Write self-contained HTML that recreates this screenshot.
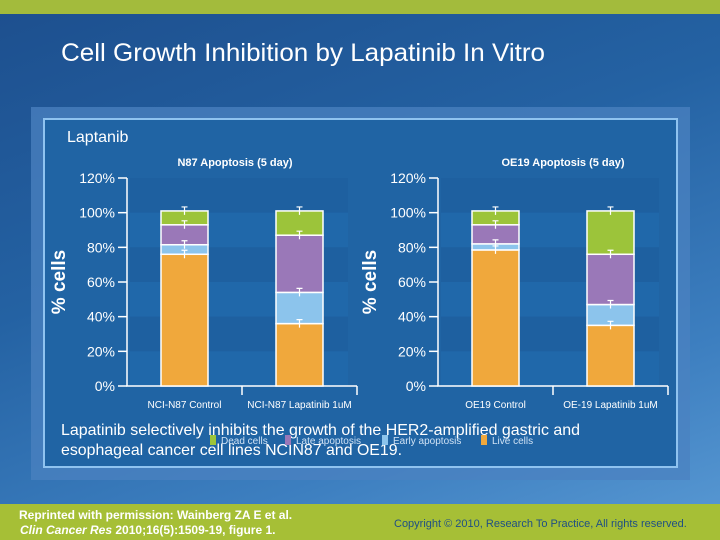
<!DOCTYPE html>
<html><head><meta charset="utf-8"><style>
html,body{margin:0;padding:0;width:720px;height:540px;overflow:hidden;font-family:"Liberation Sans",sans-serif}
#bg{position:absolute;left:0;top:0;width:720px;height:540px;background:linear-gradient(160deg,#1d4f8e 0%,#2462a3 40%,#3d7fc0 75%,#5a9ad4 100%)}
</style></head><body>
<div id="bg"></div>
<svg id="s" width="720" height="540" style="position:absolute;left:0;top:0">
<rect x="0" y="0" width="720" height="14" fill="#a3bb3c"/>
<text x="61" y="61" fill="#fff" font-size="25" textLength="484" lengthAdjust="spacingAndGlyphs">Cell Growth Inhibition by Lapatinib In Vitro</text>
<rect x="31" y="107" width="659" height="373" fill="#4b82c0" opacity="0.75"/>
<rect x="44" y="119" width="633" height="348" fill="#2064a4" stroke="#8fc3f0" stroke-width="2"/>
<text x="67" y="142" fill="#fff" font-size="16">Laptanib</text>
<g id="charts"></g>
<text x="61" y="435" fill="#fff" font-size="16" textLength="519" lengthAdjust="spacingAndGlyphs">Lapatinib selectively inhibits the growth of the HER2-amplified gastric and</text>
<text x="61" y="455" fill="#fff" font-size="16" textLength="341" lengthAdjust="spacingAndGlyphs">esophageal cancer cell lines NCIN87 and OE19.</text>
<g id="legend"></g>
<rect x="0" y="504" width="720" height="36" fill="#a6bf36"/>
<text x="19" y="519" fill="#fff" font-size="12" font-weight="bold">Reprinted with permission: Wainberg ZA E et al.</text>
<text x="20" y="534" fill="#fff" font-size="12" font-weight="bold"><tspan font-style="italic">Clin Cancer Res</tspan> 2010;16(5):1509-19, figure 1.</text>
<text x="394" y="527" fill="#1f4f84" font-size="11">Copyright © 2010, Research To Practice, All rights reserved.</text>
</svg>
<script>
const seriesNames=["Live cells","Early apoptosis","Late apoptosis","Dead cells"];
const seriesColors=["#f0a83c","#8cc4ec","#9a78b8","#9cc43a"];
const n87Categories=["NCI-N87 Control","NCI-N87 Lapatinib 1uM"];
const n87Live=[76,36];
const n87Early=[5.5,18];
const n87Late=[11.5,33];
const n87Dead=[8,14];
const n87Err=[[1,2],[0,2],[0.5,4],[1,2]];
const oe19Categories=["OE19 Control","OE-19 Lapatinib 1uM"];
const oe19Live=[78.5,35];
const oe19Early=[3.5,12];
const oe19Late=[11,29];
const oe19Dead=[8,25];
const NS="http://www.w3.org/2000/svg";
const yTicks=[0,20,40,60,80,100,120];
const g=document.getElementById('charts');
function mk(t,a,p){const e=document.createElementNS(NS,t);for(const k in a)e.setAttribute(k,a[k]);(p||g).appendChild(e);return e;}
function chart(ax,title,titleX,cats,series,key){
  const y0=386,y120=178;
  const yS=v=>y0-(v/120)*(y0-y120);
  const x1=ax+230;
  const bw=47;
  const xS=i=>ax+34+i*115;
  for(let i=0;i<6;i++){
    const r=mk('rect',{x:ax+3,y:yS(120-i*20),width:218,height:yS(0)-yS(20),fill:i%2?'#2068aa':'#1e60a0'});
    
    
  }
  const t=mk('text',{x:titleX,y:166,fill:'#fff','font-size':11,'font-weight':'bold','text-anchor':'middle'});
  t.textContent=title;
  
  
  const yl=mk('text',{transform:`translate(${ax-62},${yS(60)}) rotate(-90)`,fill:'#fff','font-size':19,'font-weight':'bold','text-anchor':'middle'});
  yl.textContent='% cells';
  
  
  const axl=mk('path',{d:`M${ax} ${yS(120)}V${y0}H${x1}`,stroke:'#fff','stroke-width':1.5,fill:'none'});
  
  
  yTicks.forEach(v=>{
    const tk=mk('line',{x1:ax-9,x2:ax,y1:yS(v),y2:yS(v),stroke:'#fff','stroke-width':1.5});
    
    
    const tl=mk('text',{x:ax-12,y:yS(v)+5,fill:'#fff','font-size':14,'text-anchor':'end'});
    tl.textContent=v+'%';
    
    
  });
  [ax+115,x1].forEach(x=>{
    const tk=mk('line',{x1:x,x2:x,y1:y0,y2:y0+9,stroke:'#fff','stroke-width':1.5});
    
    
  });
  const tops=[];
  cats.forEach((c,i)=>{
    let cum=0;
    series.forEach((s,j)=>{
      const v=s[i];
      const r=mk('rect',{x:xS(i),y:yS(cum+v),width:bw,height:yS(cum)-yS(cum+v),fill:seriesColors[j],stroke:'#fff','stroke-width':1.5});
      
      
      cum+=v;
      tops.push([xS(i)+bw/2,yS(cum)]);
    });
    const cl=mk('text',{x:xS(i)+bw/2,y:408,fill:'#fff','font-size':10,'text-anchor':'middle'});
    cl.textContent=c;
    
    
  });
  tops.forEach(([x,y])=>{
    const ey=y-4;
    const eb=mk('path',{d:`M${x-3} ${ey}H${x+3}M${x} ${ey}V${y+4}`,stroke:'#fff','stroke-width':1.2,fill:'none'});
    
    
  });
}
chart(127,'N87 Apoptosis (5 day)',235,n87Categories,[n87Live,n87Early,n87Late,n87Dead],'n87');
chart(438,'OE19 Apoptosis (5 day)',563,oe19Categories,[oe19Live,oe19Early,oe19Late,oe19Dead],'oe19');
const lg=document.getElementById('legend');
const order=[3,2,1,0];
const lx=[210,285,382,481];
order.forEach((j,k)=>{
  const r=mk('rect',{x:lx[k],y:435,width:6,height:10,fill:seriesColors[j]},lg);
  
  
  const t=mk('text',{x:lx[k]+11,y:444,fill:'#cfe2f5','font-size':10},lg);
  t.textContent=seriesNames[j];
  
  
});
</script>
</body></html>
